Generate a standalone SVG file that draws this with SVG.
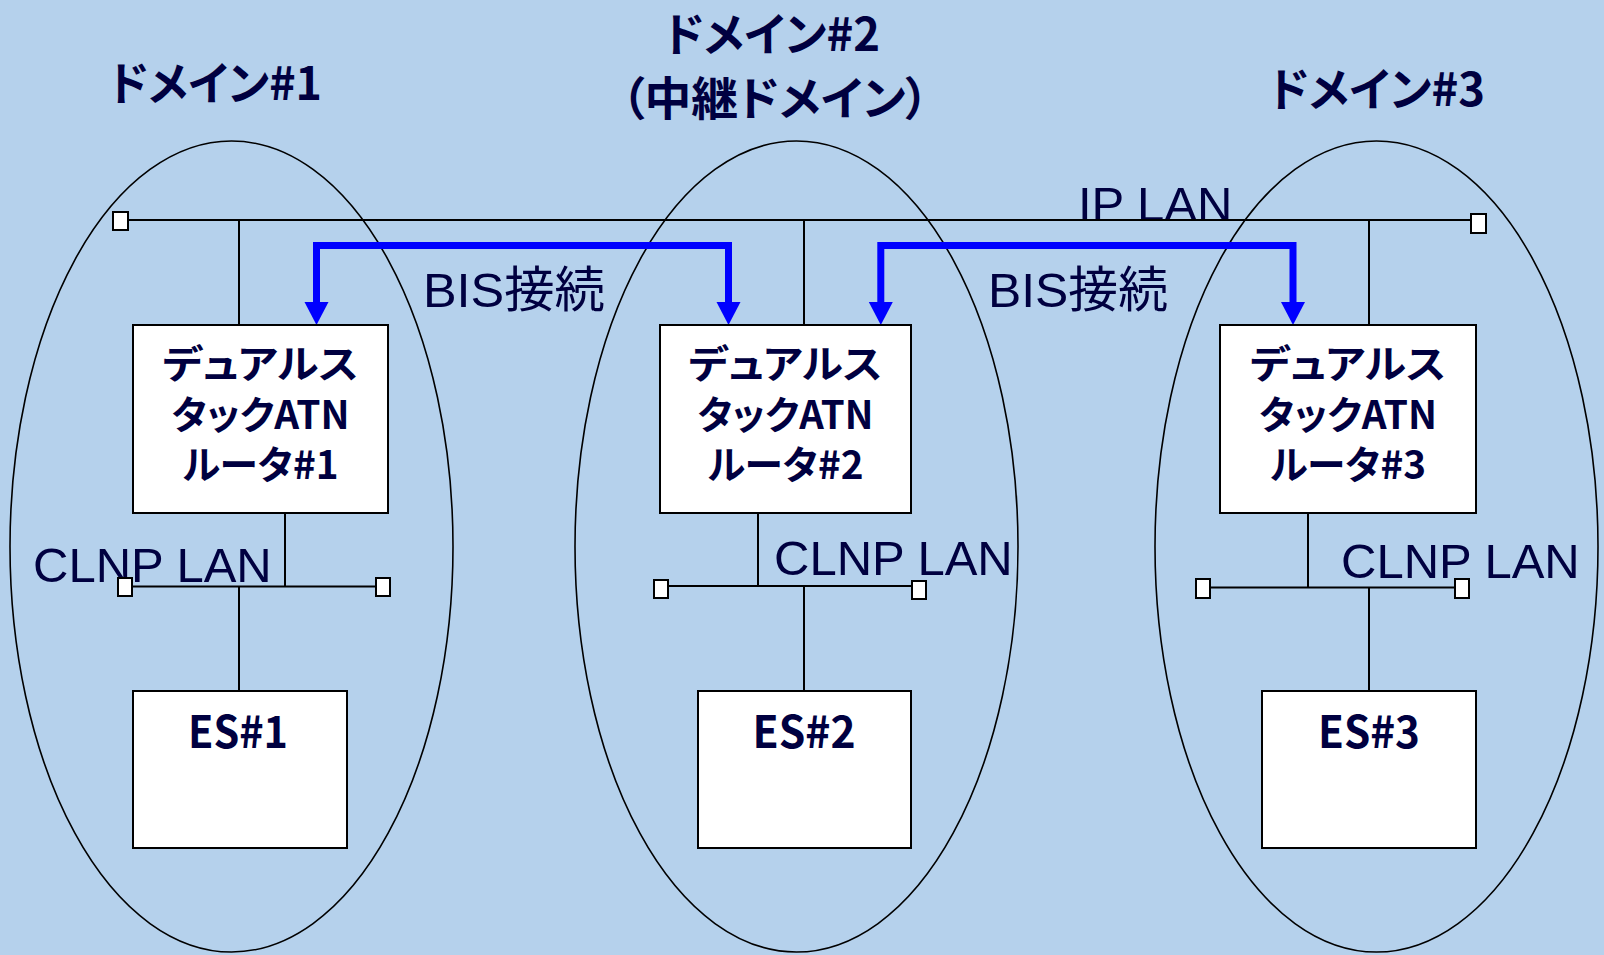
<svg xmlns="http://www.w3.org/2000/svg" width="1604" height="955" viewBox="0 0 1604 955">
<style>
.bg{fill:#B5D1EC}
.dom{fill:none;stroke:#000;stroke-width:1.6}
.box{fill:#fff;stroke:#000;stroke-width:2}
.term{fill:#fff;stroke:#000;stroke-width:2}
.ln{stroke:#000;stroke-width:2;fill:none}
.bis{stroke:#0000FF;stroke-width:7;fill:none;stroke-linejoin:miter}
.jt{font-family:"Noto Sans CJK JP","Noto Sans",sans-serif;font-weight:bold;fill:#000040;text-anchor:middle;font-feature-settings:"palt"}
.lab{font-family:"Liberation Sans","Noto Sans CJK JP",sans-serif;fill:#000040;font-size:49px}
</style>
<defs>
<marker id="ah" markerUnits="userSpaceOnUse" viewBox="-1 -13 26 26" refX="0" refY="0" markerWidth="26" markerHeight="26" orient="auto-start-reverse">
<path d="M0,-12 L23,0 L0,12 Z" fill="#0000FF"/>
</marker>
</defs>
<rect class="bg" x="0" y="0" width="1604" height="955"/>

<g id="domain1">
<ellipse class="dom" cx="231.5" cy="546.5" rx="221.5" ry="405.5"/>
<text class="jt" x="215.5" y="100" font-size="46" textLength="213" lengthAdjust="spacingAndGlyphs">ドメイン#1</text>
</g>
<g id="domain2">
<ellipse class="dom" cx="796.5" cy="546.5" rx="221.5" ry="405.5"/>
<text class="jt" font-size="46"><tspan x="772" y="51" textLength="216" lengthAdjust="spacingAndGlyphs">ドメイン#2</tspan><tspan x="775" y="115" textLength="308" lengthAdjust="spacingAndGlyphs">（中継ドメイン）</tspan></text>
</g>
<g id="domain3">
<ellipse class="dom" cx="1376.5" cy="546.5" rx="221.5" ry="405.5"/>
<text class="jt" x="1377" y="106" font-size="46" textLength="216" lengthAdjust="spacingAndGlyphs">ドメイン#3</text>
</g>

<g id="labels">
<text class="lab" x="1078" y="221" font-size="48">IP LAN</text>
<text class="lab" x="33" y="582">CLNP LAN</text>
<text class="lab" x="774" y="575">CLNP LAN</text>
<text class="lab" x="1341" y="578">CLNP LAN</text>
<text class="lab" x="423" y="307" font-size="48" textLength="182" lengthAdjust="spacingAndGlyphs">BIS接続</text>
<text class="lab" x="988" y="307" font-size="48" textLength="180" lengthAdjust="spacingAndGlyphs">BIS接続</text>
</g>

<g id="connectors">
<line class="ln" x1="128" y1="220" x2="1470" y2="220"/>
<line class="ln" x1="239" y1="220" x2="239" y2="325"/>
<line class="ln" x1="804" y1="220" x2="804" y2="325"/>
<line class="ln" x1="1369" y1="220" x2="1369" y2="325"/>
<line class="ln" x1="132" y1="586.5" x2="377" y2="586.5"/>
<line class="ln" x1="285" y1="513" x2="285" y2="586.5"/>
<line class="ln" x1="239" y1="586.5" x2="239" y2="691"/>
<line class="ln" x1="668" y1="586" x2="912" y2="586"/>
<line class="ln" x1="758" y1="513" x2="758" y2="586"/>
<line class="ln" x1="804" y1="586" x2="804" y2="691"/>
<line class="ln" x1="1210" y1="587.5" x2="1455" y2="587.5"/>
<line class="ln" x1="1308" y1="513" x2="1308" y2="587.5"/>
<line class="ln" x1="1369" y1="587.5" x2="1369" y2="691"/>
<path class="bis" d="M316.5,302 V245.5 H728.5 V302" marker-start="url(#ah)" marker-end="url(#ah)"/>
<path class="bis" d="M880.8,302 V245.5 H1293 V302" marker-start="url(#ah)" marker-end="url(#ah)"/>
</g>

<g id="router1">
<rect class="box" x="133" y="325" width="255" height="188"/>
<text class="jt" font-size="39"><tspan x="260.5" y="378" textLength="196" lengthAdjust="spacingAndGlyphs">デュアルス</tspan><tspan x="260.5" y="429" textLength="178" lengthAdjust="spacingAndGlyphs">タックATN</tspan><tspan x="260.5" y="479" textLength="156" lengthAdjust="spacingAndGlyphs">ルータ#1</tspan></text>
</g>
<g id="router2">
<rect class="box" x="660" y="325" width="251" height="188"/>
<text class="jt" font-size="39"><tspan x="785.5" y="378" textLength="194" lengthAdjust="spacingAndGlyphs">デュアルス</tspan><tspan x="785.5" y="429" textLength="176" lengthAdjust="spacingAndGlyphs">タックATN</tspan><tspan x="785.5" y="479" textLength="156" lengthAdjust="spacingAndGlyphs">ルータ#2</tspan></text>
</g>
<g id="router3">
<rect class="box" x="1220" y="325" width="256" height="188"/>
<text class="jt" font-size="39"><tspan x="1348" y="378" textLength="196" lengthAdjust="spacingAndGlyphs">デュアルス</tspan><tspan x="1348" y="429" textLength="178" lengthAdjust="spacingAndGlyphs">タックATN</tspan><tspan x="1348" y="479" textLength="156" lengthAdjust="spacingAndGlyphs">ルータ#3</tspan></text>
</g>

<g id="es1">
<rect class="box" x="133" y="691" width="214" height="157"/>
<text class="jt" font-size="44" x="238" y="748" textLength="100" lengthAdjust="spacingAndGlyphs">ES#1</text>
</g>
<g id="es2">
<rect class="box" x="698" y="691" width="213" height="157"/>
<text class="jt" font-size="44" x="804" y="748" textLength="103" lengthAdjust="spacingAndGlyphs">ES#2</text>
</g>
<g id="es3">
<rect class="box" x="1262" y="691" width="214" height="157"/>
<text class="jt" font-size="44" x="1369" y="748" textLength="102" lengthAdjust="spacingAndGlyphs">ES#3</text>
</g>

<g id="terminators">
<rect class="term" x="113" y="212" width="15" height="18"/>
<rect class="term" x="1471" y="214" width="15" height="19"/>
<rect class="term" x="118" y="578" width="14" height="18"/>
<rect class="term" x="376" y="578" width="14" height="18"/>
<rect class="term" x="654" y="580" width="14" height="18"/>
<rect class="term" x="912" y="581" width="14" height="18"/>
<rect class="term" x="1196" y="579" width="14" height="19"/>
<rect class="term" x="1455" y="579" width="14" height="19"/>
</g>
</svg>
